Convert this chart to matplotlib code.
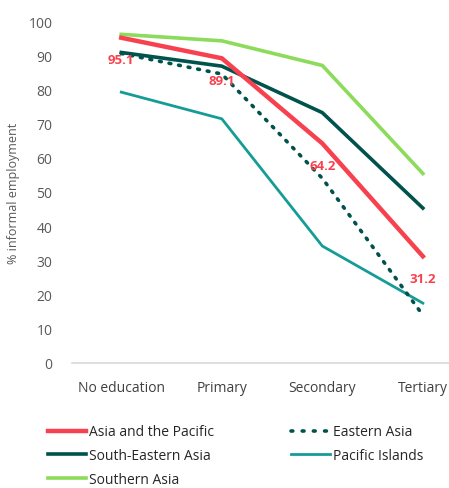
import matplotlib.pyplot as plt
from matplotlib.lines import Line2D

plt.rcParams['font.family'] = ['Open Sans', 'DejaVu Sans']

categories = ['No education', 'Primary', 'Secondary', 'Tertiary']
asia_pacific = [95.1, 89.1, 64.2, 31.2]
eastern_asia = [90.5, 84.5, 54.0, 14.0]
south_eastern_asia = [90.8, 86.8, 73.2, 45.3]
pacific_islands = [79.2, 71.4, 34.2, 17.5]
southern_asia = [96.1, 94.2, 87.0, 55.4]

red = '#F8414F'
dark = '#00524C'
teal = '#169C97'
light = '#8CDB5B'

fig = plt.figure(figsize=(4.49, 4.89), dpi=100)
ax = fig.add_axes([72 / 449, 125 / 489, 377 / 449, 342 / 489])
x = range(len(categories))

ax.plot(x, pacific_islands, color=teal, lw=2.0)
ax.plot(x, southern_asia, color=light, lw=2.6)
ax.plot(x, south_eastern_asia, color=dark, lw=2.6)
ax.plot(x, asia_pacific, color=red, lw=3.2)
ax.plot(x, eastern_asia, color=dark, lw=2.6, linestyle=(0, (0.5, 2.2)),
        dash_capstyle='round')

for xi, v in zip(x, asia_pacific):
    ax.annotate(f'{v}', (xi, v), xytext=(0, -16), textcoords='offset points',
                ha='center', va='center', color=red, fontsize=9.5, fontweight='bold')

ax.set_xlim(-0.49, 3.26)
ax.set_ylim(0, 100)
ax.set_yticks(range(0, 101, 10))
ax.set_xticks(list(x))
ax.set_xticklabels(categories)
for s in ['top', 'right', 'left']:
    ax.spines[s].set_visible(False)
ax.spines['bottom'].set_color('#D9D9D9')
ax.spines['bottom'].set_linewidth(1.2)
ax.tick_params(axis='both', length=0, labelsize=10, colors='#595959')
ax.tick_params(axis='x', pad=12, labelcolor='#404040')
ax.tick_params(axis='y', pad=14)
ax.set_ylabel('% informal employment', fontsize=9, color='#595959', labelpad=6)

handles = [
    Line2D([], [], color=red, lw=3.2, label='Asia and the Pacific'),
    Line2D([], [], color=dark, lw=2.6, label='South-Eastern Asia'),
    Line2D([], [], color=light, lw=2.6, label='Southern Asia'),
    Line2D([], [], color=dark, lw=2.6, linestyle=(0, (0.5, 2.6)), dash_capstyle='round',
           label='Eastern Asia'),
    Line2D([], [], color=teal, lw=2.0, label='Pacific Islands'),
]
fig.legend(handles=handles, ncol=2, loc='upper left', bbox_to_anchor=(35 / 449, 1 - 413 / 489),
           frameon=False, fontsize=10, handlelength=2.8, handletextpad=0.2,
           columnspacing=5.55, labelspacing=0.62, labelcolor='#262626')

fig.savefig('out.png', dpi=100)
